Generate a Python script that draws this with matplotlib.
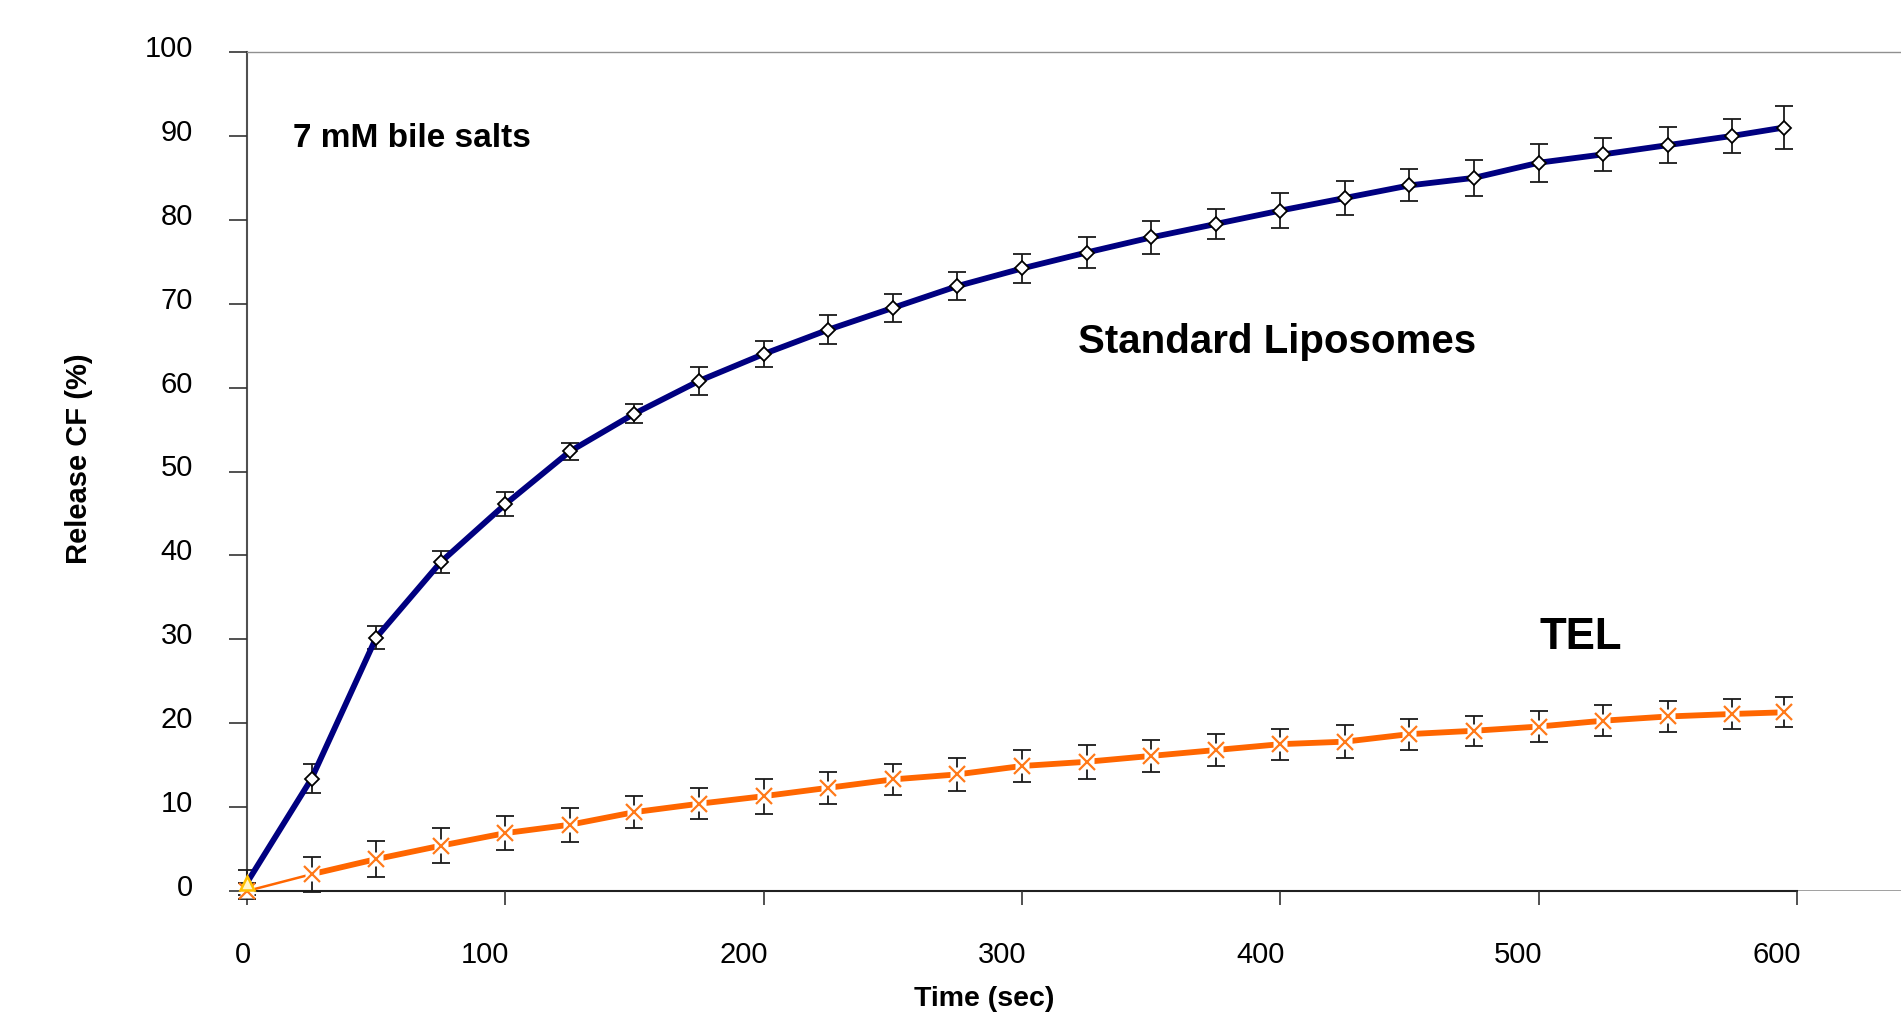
import matplotlib
matplotlib.use("Agg")
import matplotlib.pyplot as plt
import matplotlib.transforms as mtransforms
import numpy as np

plt.rcParams['font.family'] = ['Liberation Sans', 'DejaVu Sans']

# ---- data ----
time_sec = [0, 25, 50, 75, 100, 125, 150, 175, 200, 225, 250, 275, 300,
            325, 350, 375, 400, 425, 450, 475, 500, 525, 550, 575, 595]

standard_lipo = [1.0, 13.4, 30.2, 39.2, 46.1, 52.4, 56.9, 60.8, 64.0, 66.9,
                 69.5, 72.1, 74.2, 76.1, 77.9, 79.5, 81.1, 82.6, 84.1, 85.0,
                 86.8, 87.8, 88.9, 90.0, 91.0]
standard_err = [1.5, 1.7, 1.35, 1.3, 1.45, 1.0, 1.15, 1.65, 1.5, 1.75,
                1.65, 1.7, 1.75, 1.9, 2.0, 1.8, 2.05, 2.0, 1.9, 2.15,
                2.25, 2.0, 2.15, 2.0, 2.6]

tel = [0.0, 2.0, 3.8, 5.4, 6.9, 7.9, 9.4, 10.4, 11.3, 12.3, 13.3, 13.9, 14.9,
       15.4, 16.1, 16.8, 17.5, 17.8, 18.7, 19.1, 19.6, 20.3, 20.8, 21.1, 21.3]
tel_err = [1.0, 2.1, 2.1, 2.05, 2.05, 2.05, 1.95, 1.85, 2.1, 1.9, 1.85, 1.95,
           1.9, 2.0, 1.9, 1.9, 1.85, 1.95, 1.85, 1.8, 1.85, 1.85, 1.85, 1.8, 1.8]

x_ticks = [0, 100, 200, 300, 400, 500, 600]
y_ticks = [0, 10, 20, 30, 40, 50, 60, 70, 80, 90, 100]

x_label = "Time (sec)"
y_label = "Release CF (%)"
note_text = "7 mM bile salts"
label_std = "Standard Liposomes"
label_tel = "TEL"

# ---- figure ----
W, H = 1901, 1014
fig = plt.figure(figsize=(W / 100, H / 100), dpi=100)
ax_left, ax_bottom_px, ax_top_px = 247, 891, 52
ax = fig.add_axes([ax_left / W, 1 - ax_bottom_px / H, 1 - ax_left / W,
                   (ax_bottom_px - ax_top_px) / H])

blue = '#000080'
orange = '#FF6600'
err_col = '#1a1a1a'

# error bars
for ys, es in ((standard_lipo, standard_err), (tel, tel_err)):
    eb = ax.errorbar(time_sec, ys, yerr=es, fmt='none',
                     ecolor=err_col, elinewidth=1.3, capsize=6.5,
                     capthick=1.3, zorder=2)
    for art in eb.lines[1]:
        art.set_clip_on(False)
    for art in eb.lines[2]:
        art.set_clip_on(False)

# lines
ax.plot(time_sec, standard_lipo, color=blue, lw=4.2, zorder=3,
        solid_joinstyle='round', solid_capstyle='round', clip_on=False)
ax.plot(time_sec[:2], tel[:2], color=orange, lw=1.8, zorder=3, clip_on=False)
ax.plot(time_sec[1:], tel[1:], color=orange, lw=4.2, zorder=3,
        solid_joinstyle='round', solid_capstyle='butt', clip_on=False)

# markers
ax.plot(time_sec[1:], standard_lipo[1:], ls='none', marker='D', ms=7.3,
        mfc='white', mec='black', mew=1.3, zorder=5, clip_on=False)
ax.plot(time_sec, tel, ls='none', marker='s', ms=10.5, mfc='white',
        mec='none', zorder=4, clip_on=False)
ax.plot(time_sec, tel, ls='none', marker='x', ms=11.5, mec='#FF7A1A',
        mew=1.6, zorder=5, clip_on=False)
ax.plot(time_sec[:1], standard_lipo[:1], ls='none', marker='^', ms=10,
        mfc='#FFF6CC', mec='#FFC000', mew=1.8, zorder=6, clip_on=False)

ax.set_xlim(0, (W - ax_left) / 258.33 * 100)
ax.set_ylim(0, 100)
ax.set_xticks(x_ticks)
ax.set_yticks(y_ticks)
ax.set_xticklabels([str(v) for v in x_ticks])
ax.set_yticklabels([str(v) for v in y_ticks])

ax.tick_params(axis='y', direction='out', length=13, width=1.2,
               color='#333333', pad=26, labelsize=21)
ax.tick_params(axis='x', direction='out', length=10, width=1.2,
               color='#333333', pad=26, labelsize=21)

off_x = mtransforms.ScaledTranslation(4 / 100, 0, fig.dpi_scale_trans)
for lab in ax.get_xticklabels():
    lab.set_horizontalalignment('right')
    lab.set_transform(lab.get_transform() + off_x)
off_y = mtransforms.ScaledTranslation(0, 6 / 100, fig.dpi_scale_trans)
for lab in ax.get_yticklabels():
    lab.set_transform(lab.get_transform() + off_y)

ax.spines['right'].set_visible(False)
ax.spines['top'].set_color('#909090')
ax.spines['top'].set_linewidth(1.0)
ax.spines['left'].set_color('#505050')
ax.spines['left'].set_linewidth(1.5)
ax.spines['bottom'].set_color('#202020')
ax.spines['bottom'].set_linewidth(1.5)
ax.spines['bottom'].set_bounds(x_ticks[0], x_ticks[-1])
ax.axhline(0, color='#909090', lw=1.2, zorder=0.5)
for sp in ax.spines.values():
    sp.set_zorder(1)

# texts
ax.text(17.8, 88.7, note_text, fontsize=24, fontweight='bold',
        ha='left', va='baseline')
ax.text(321.7, 64.1, label_std, fontsize=29, fontweight='bold',
        ha='left', va='baseline')
ax.text(500.2, 28.8, label_tel, fontsize=31.5, fontweight='bold',
        ha='left', va='baseline')

fig.text(984 / W, 1 - 999 / H, x_label, fontsize=20.5, fontweight='bold',
         ha='center', va='center')
fig.text(79 / W, 1 - 459 / H, y_label, fontsize=21, fontweight='bold',
         ha='center', va='center', rotation=90)

fig.savefig('out.png', dpi=100)
